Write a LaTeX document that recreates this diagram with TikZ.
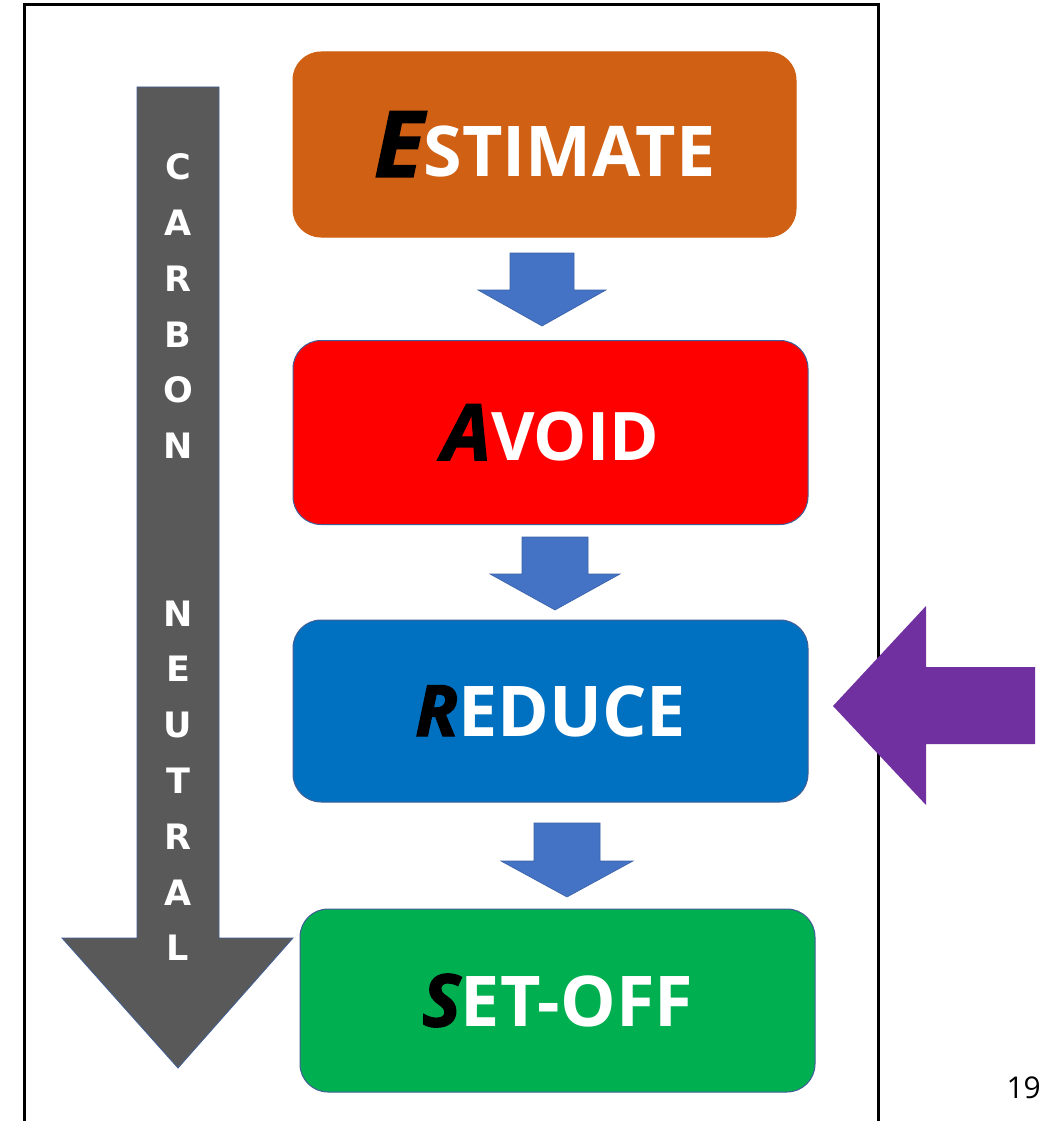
\documentclass[tikz,border=0pt]{standalone}
\usepackage{fontspec}
\setmainfont{Open Sans}
\newfontfamily\vfont{DejaVu Sans}
\newfontfamily\blkfont{Open Sans}[FakeBold=1.6]
\definecolor{cest}{RGB}{208,96,20}
\definecolor{cavd}{RGB}{255,0,0}
\definecolor{cred}{RGB}{0,112,192}
\definecolor{cset}{RGB}{0,176,80}
\definecolor{bord}{RGB}{65,95,150}
\definecolor{flowblue}{RGB}{68,114,196}
\definecolor{cpurple}{RGB}{112,48,160}
\definecolor{cgray}{RGB}{89,89,89}
\newcommand{\blk}[2]{{\blkfont\fontsize{#2}{#2}\selectfont\bfseries\itshape\color{black}#1}}
\newcommand{\wht}[2]{{\fontsize{#2}{#2}\selectfont\bfseries\color{white}#1}}
\tikzset{
  stage/.style={rounded corners=28pt, minimum width=515pt, minimum height=184pt,
    draw=bord, line width=1pt, inner sep=0pt},
  flow/.style={fill=flowblue, draw=flowblue!85!black, line width=0.6pt},
  vletter/.style={font=\vfont\bfseries\fontsize{35}{35}\selectfont, text=white, inner sep=0pt},
}
\begin{document}
\begin{tikzpicture}[x=1pt,y=-1pt]
\useasboundingbox (0,0) rectangle (1043,1121);
\fill[white] (0,0) rectangle (1043,1121);
% frame
\draw[line width=3pt] (24,1121) -- (24,5) -- (878,5) -- (878,1121);
% gray side arrow
\filldraw[fill=cgray, draw=bord, line width=0.8pt]
  (137,87) -- (219,87) -- (219,938) -- (293,938) -- (178,1068) -- (62,938) -- (137,938) -- cycle;
\foreach \ch [count=\i from 0] in {C,A,R,B,O,N,{},{},N,E,U,T,R,A,L}{
  \node[vletter] (v\i) at (178,{167+55.8*\i}) {\ch};
}
% stage boxes
\node[stage, fill=cest, draw=cest, minimum width=503pt, minimum height=185pt] (est) at (544.5,144.5)
  {\blk{E}{92}\wht{STIMATE}{70}};
\node[stage, fill=cavd] (avd) at (550.5,432.5) {\blk{A}{78}\wht{VOID}{67}};
\node[stage, fill=cred, minimum height=182pt] (red) at (550.5,711) {\blk{R}{71}\wht{EDUCE}{70}};
\node[stage, fill=cset, minimum height=183pt] (set) at (557.5,1000.5) {\blk{S}{73}\wht{ET-OFF}{70}};
% flow arrows
\filldraw[flow] (510,253) -- (574,253) -- (574,290) -- (606,290) -- (542,326) -- (478,290) -- (510,290) -- cycle;
\filldraw[flow] (522,537) -- (588,537) -- (588,574) -- (620,574) -- (555,610) -- (490,574) -- (522,574) -- cycle;
\filldraw[flow] (534,823) -- (600,823) -- (600,861) -- (633,861) -- (567,897) -- (501,861) -- (534,861) -- cycle;
% purple pointer
\fill[cpurple] (833,706) -- (926,606) -- (926,667) -- (1035,667) -- (1035,744) -- (926,744) -- (926,805) -- cycle;
% page number
\node[font=\fontsize{30}{30}\selectfont, anchor=base east, inner sep=0pt] (pg) at (1041,1098) {19};
\end{tikzpicture}
\end{document}
